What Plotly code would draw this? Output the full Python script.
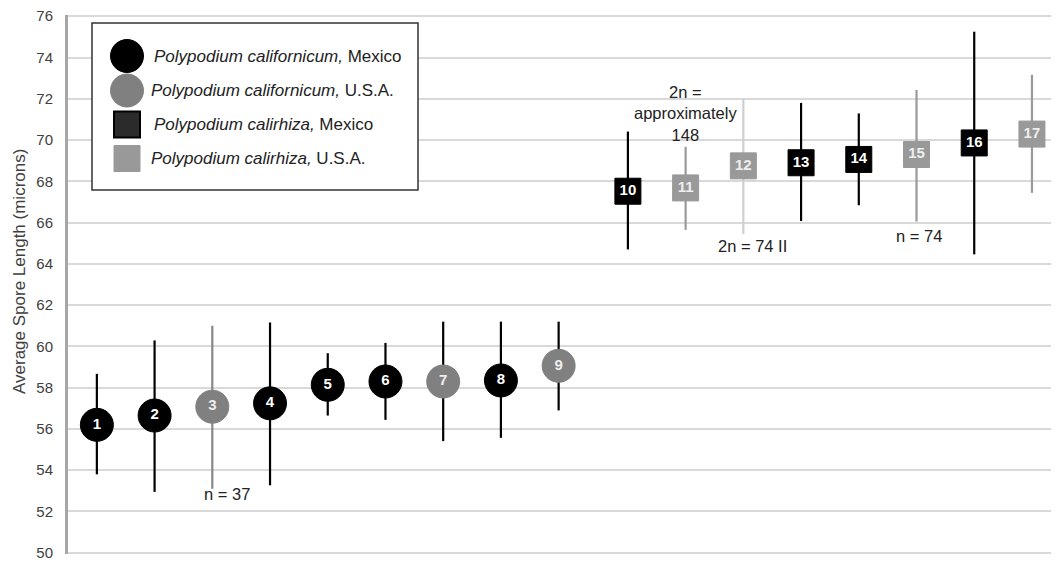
import plotly.graph_objects as go

# ---- data ----
sample_ids = list(range(1, 18))
x_pos = [1, 2, 3, 4, 5, 6, 7, 8, 9, 10.2, 11.2, 12.2, 13.2, 14.2, 15.2, 16.2, 17.2]
means = [56.2, 56.65, 57.08, 57.24, 58.14, 58.3, 58.3, 58.35, 59.06,
         67.52, 67.68, 68.75, 68.9, 69.06, 69.3, 69.86, 70.29]
upper = [58.67, 60.29, 61.0, 61.16, 59.67, 60.17, 61.2, 61.2, 61.2,
         70.41, 69.67, 72.0, 71.8, 71.29, 72.43, 75.25, 73.16]
lower = [53.8, 52.95, 53.1, 53.27, 56.65, 56.44, 55.41, 55.57, 56.9,
         64.7, 65.65, 65.44, 66.08, 66.84, 66.05, 64.46, 67.44]
groups = ["cm", "cm", "cu", "cm", "cm", "cm", "cu", "cm", "cu",
          "rm", "ru", "ru", "rm", "rm", "ru", "rm", "ru"]
bar_colors = ["#000000", "#000000", "#888888", "#000000", "#000000", "#000000", "#000000", "#000000", "#000000",
              "#000000", "#9a9a9a", "#cfcfcf", "#000000", "#000000", "#9a9a9a", "#000000", "#9a9a9a"]

legend_labels = {
    "cm": "<i>Polypodium californicum,</i> Mexico",
    "cu": "<i>Polypodium californicum,</i> U.S.A.",
    "rm": "<i>Polypodium calirhiza,</i> Mexico",
    "ru": "<i>Polypodium calirhiza,</i> U.S.A.",
}
group_style = {
    "cm": dict(symbol="circle", color="#000000", size=33, line="#000000", text="#ffffff"),
    "cu": dict(symbol="circle", color="#808080", size=33, line="#808080", text="#eeeeee"),
    "rm": dict(symbol="square", color="#000000", size=26, line="#000000", text="#ffffff"),
    "ru": dict(symbol="square", color="#999999", size=26, line="#999999", text="#eeeeee"),
}

notes = [
    dict(x=3.25, y=52.85, text="n = 37"),
    dict(x=11.2, y=71.3, text="2n =<br>approximately<br>148"),
    dict(x=12.35, y=64.85, text="2n = 74 II"),
    dict(x=15.25, y=65.35, text="n = 74"),
]
y_title = "Average Spore Length (microns)"

FONT = "Liberation Sans, Arial, sans-serif"

fig = go.Figure()
for i in range(len(sample_ids)):
    st = group_style[groups[i]]
    fig.add_trace(go.Scatter(
        x=[x_pos[i]], y=[means[i]],
        mode="markers+text",
        text=[str(sample_ids[i])],
        textposition="middle center",
        textfont=dict(color=st["text"], size=15, family=FONT, weight="bold"),
        marker=dict(symbol=st["symbol"], size=st["size"], color=st["color"],
                    line=dict(color=st["line"], width=1)),
        error_y=dict(type="data", symmetric=False,
                     array=[upper[i] - means[i]], arrayminus=[means[i] - lower[i]],
                     color=bar_colors[i], thickness=2.2, width=0),
        showlegend=False, hoverinfo="skip",
    ))

for n in notes:
    fig.add_annotation(x=n["x"], y=n["y"], text=n["text"], showarrow=False,
                       font=dict(size=16.5, color="#222222", family=FONT))

# ---- manual legend (positions given in page pixels, converted to paper) ----
L, B, W, H = 68, 554, 983, 539
def px(xp):
    return (xp - L) / W
def py(yp):
    return (B - yp) / H

fig.add_shape(type="rect", xref="paper", yref="paper",
              x0=px(92), x1=px(418), y0=py(190), y1=py(23),
              line=dict(color="#333333", width=1.5), fillcolor="#ffffff", layer="above")

leg_rows = [("cm", 56, 152), ("cu", 90.5, 148.5), ("rm", 124.5, 151.5), ("ru", 158.5, 148.5)]
for key, yc, xt in leg_rows:
    st = group_style[key]
    if st["symbol"] == "circle":
        half = 16.5
        fig.add_shape(type="circle", xref="paper", yref="paper", xsizemode="pixel", ysizemode="pixel",
                      xanchor=px(127), yanchor=py(yc), x0=-half, x1=half, y0=-half, y1=half,
                      fillcolor=st["color"], line=dict(color=st["color"], width=1), layer="above")
    else:
        half = 13
        fill = "#2b2b2b" if key == "rm" else st["color"]
        fig.add_shape(type="rect", xref="paper", yref="paper", xsizemode="pixel", ysizemode="pixel",
                      xanchor=px(127), yanchor=py(yc), x0=-half, x1=half, y0=-half, y1=half,
                      fillcolor=fill,
                      line=dict(color="#000000" if key == "rm" else st["color"], width=2 if key == "rm" else 1),
                      layer="above")
    fig.add_annotation(xref="paper", yref="paper", x=px(xt), y=py(yc), xanchor="left", yanchor="middle",
                       text=legend_labels[key], showarrow=False,
                       font=dict(size=17, color="#222222", family=FONT))

# y-axis title placed as rotated annotation
fig.add_annotation(xref="paper", yref="paper", x=px(19), y=py(272), text=y_title, textangle=-90,
                   showarrow=False, xanchor="center", yanchor="middle",
                   font=dict(size=17, color="#404040", family=FONT))

fig.update_layout(
    width=1043, height=552,
    margin=dict(l=60, r=0, t=7, b=6),
    plot_bgcolor="#ffffff", paper_bgcolor="#ffffff",
    font=dict(family=FONT, color="#333333"),
    showlegend=False,
)
fig.update_xaxes(range=[0.5, 17.53], showticklabels=False, showgrid=False, zeroline=False,
                 showline=False, ticks="", automargin=False)
fig.update_yaxes(range=[49.94, 76.06], dtick=2, tick0=50, showgrid=True, gridcolor="#d9d9d9", gridwidth=2,
                 zeroline=False, showline=True, linecolor="#a6a6a6", linewidth=3,
                 ticks="", ticklabelstandoff=9, ticklabeloverflow="allow", automargin=False,
                 tickfont=dict(size=15, color="#404040", family=FONT))

fig.write_html("out.html")
